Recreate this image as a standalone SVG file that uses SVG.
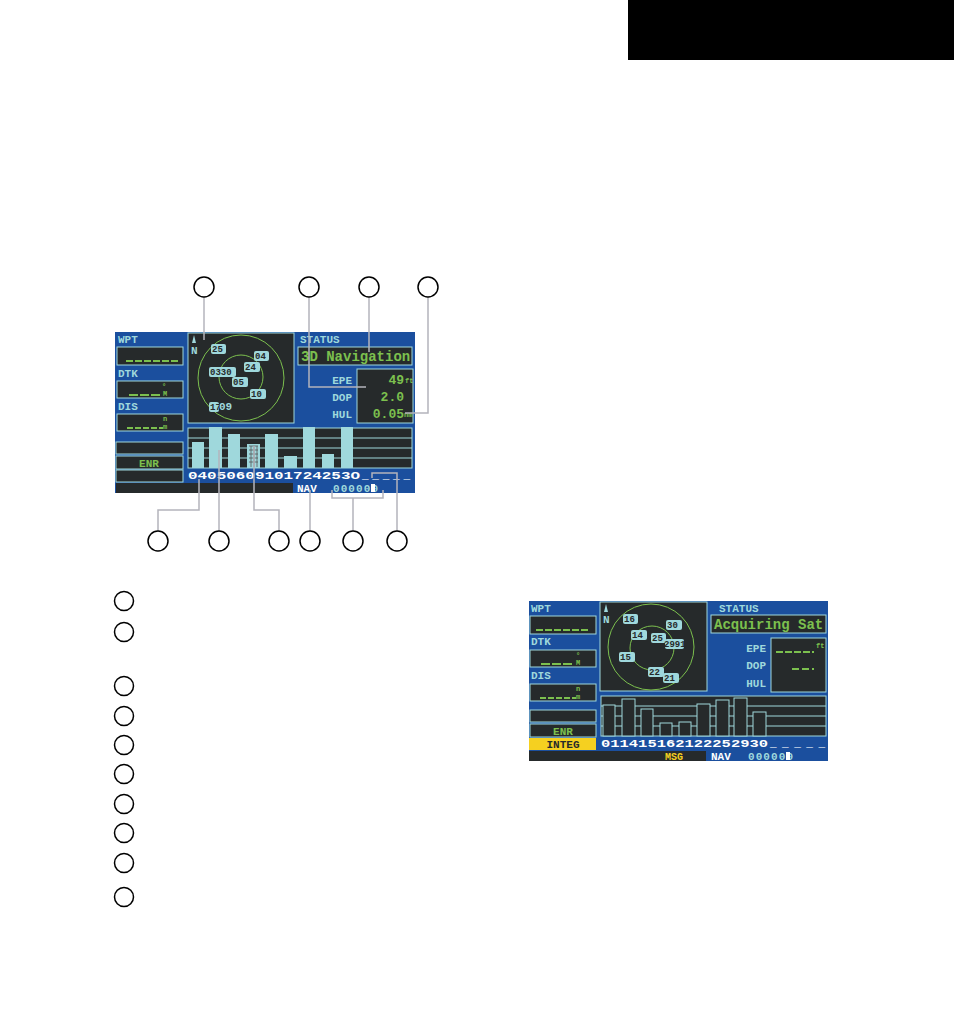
<svg xmlns="http://www.w3.org/2000/svg" width="954" height="1014" viewBox="0 0 954 1014">
<style>
.bg{fill:#1b4f9e}.dk{fill:#262a2b}.bx{fill:#262a2b;stroke:#9fd8dc;stroke-width:1}
.lbl{font-family:"Liberation Mono",monospace;font-weight:bold;fill:#9fd8dc;font-size:11px}
.gr{font-family:"Liberation Mono",monospace;font-weight:bold;fill:#7cc04e}
.wt{font-family:"Liberation Mono",monospace;font-weight:bold;fill:#fff;font-size:11px}
.sat{fill:#9fd8dc}.st{font-family:"Liberation Mono",monospace;font-size:9px;fill:#262a2b;font-weight:bold}
.ring{fill:none;stroke:#7cc04e;stroke-width:1}
.ld{fill:none;stroke:#b4b4bc;stroke-width:1.5}
.cc{fill:#fff;stroke:#000;stroke-width:1.5}
.bar{fill:#9fd8dc}.obar{fill:#262a2b;stroke:#9fd8dc}
.dash{stroke:#7cc04e;stroke-width:2}
</style>
<rect x="628" y="0" width="326" height="60" fill="#000"/>
<g id="screen1">
<rect class="bg" x="115" y="332" width="300" height="161"/>
<text class="lbl" x="118" y="343">WPT</text>
<rect class="bx" x="117" y="347" width="66" height="18"/>
<line class="dash" x1="126" y1="361" x2="180" y2="361" stroke-dasharray="7,2"/>
<text class="lbl" x="118" y="377">DTK</text>
<rect class="bx" x="117" y="381" width="66" height="17"/>
<line class="dash" x1="129" y1="395" x2="162" y2="395" stroke-dasharray="9,2"/>
<text class="gr" x="163" y="396" font-size="7">M</text><text class="gr" x="162" y="389" font-size="7">°</text>
<text class="lbl" x="118" y="410">DIS</text>
<rect class="bx" x="117" y="414" width="66" height="17"/>
<line class="dash" x1="127" y1="428" x2="163" y2="428" stroke-dasharray="6,2"/>
<text class="gr" x="163" y="429" font-size="7">m</text><text class="gr" x="163" y="421" font-size="7">n</text>
<rect class="bx" x="116" y="442" width="67" height="12"/>
<rect class="bx" x="116" y="456" width="67" height="13"/>
<text class="gr" x="149" y="467" font-size="11" text-anchor="middle">ENR</text>
<rect class="bx" x="116" y="470" width="67" height="12"/>
<rect class="dk" x="116" y="483" width="177" height="10"/>
<rect class="bx" x="188" y="333" width="106" height="90"/>
<circle class="ring" cx="241" cy="378" r="43"/><circle class="ring" cx="241" cy="377" r="22"/>
<path d="M194 335 L196 343 L192 343 Z" fill="#9fd8dc"/><text class="lbl" x="191" y="354" font-size="8" font-weight="normal">N</text>
<g>
<rect class="sat" x="211" y="344" width="15" height="10" rx="2"/><text class="st" x="212" y="352">25</text>
<rect class="sat" x="254" y="351" width="15" height="10" rx="2"/><text class="st" x="255" y="359">04</text>
<rect class="sat" x="244" y="362" width="16" height="10" rx="2"/><text class="st" x="245" y="370">24</text>
<rect class="sat" x="209" y="367" width="27" height="10" rx="2"/><text class="st" x="210" y="375">0330</text>
<rect class="sat" x="232" y="377" width="16" height="10" rx="2"/><text class="st" x="233" y="385">05</text>
<rect class="sat" x="250" y="389" width="16" height="10" rx="2"/><text class="st" x="251" y="397">10</text>
<rect class="sat" x="209" y="402" width="10" height="10" rx="2"/><text class="st" x="210" y="410">17</text>
<text class="lbl" x="219" y="410" font-size="9" font-weight="normal">09</text>
</g>
<text class="lbl" x="300" y="343">STATUS</text>
<rect class="bx" x="298" y="347" width="114" height="18"/>
<text class="gr" x="301" y="361" font-size="14">3D Navigation</text>
<text class="lbl" x="352" y="384" text-anchor="end">EPE</text>
<text class="lbl" x="352" y="401" text-anchor="end">DOP</text>
<text class="lbl" x="352" y="418" text-anchor="end">HUL</text>
<rect class="bx" x="357" y="369" width="56" height="54"/>
<text class="gr" x="404" y="384" font-size="13" text-anchor="end">49</text><text class="gr" x="405" y="383" font-size="7">ft</text>
<text class="gr" x="404" y="401" font-size="13" text-anchor="end">2.0</text>
<text class="gr" x="404" y="418" font-size="13" text-anchor="end">0.05</text><text class="gr" x="404" y="417" font-size="7">nm</text>
<rect class="bx" x="188" y="428" width="224" height="40"/>
<g stroke="#9fd8dc" stroke-width="1"><line x1="188" y1="438" x2="412" y2="438"/><line x1="188" y1="448" x2="412" y2="448"/><line x1="188" y1="458" x2="412" y2="458"/></g>
<g class="bar">
<rect x="192" y="442" width="12" height="26"/><rect x="209" y="427" width="13" height="41"/><rect x="228" y="434" width="12" height="34"/>
<rect x="265" y="434" width="13" height="34"/><rect x="284" y="456" width="13" height="12"/><rect x="303" y="427" width="12" height="41"/>
<rect x="322" y="454" width="12" height="14"/><rect x="341" y="427" width="12" height="41"/>
<rect x="247" y="444" width="13" height="24" fill="#9fd8dc"/>
</g>
<path d="M249 446 h9 M249 450 h9 M249 454 h9 M249 458 h9 M249 462 h9 M251 446 v21 M254 446 v21 M257 446 v21" stroke="#555" stroke-width="0.8"/>
<text class="wt" x="188" y="479" textLength="172" lengthAdjust="spacingAndGlyphs">04050609101724253O</text>
<text class="wt" x="362" y="479" textLength="48" lengthAdjust="spacing">_____</text>
<text class="wt" x="297" y="492" font-size="10">NAV</text>
<text class="lbl" x="333" y="492" font-size="10" font-weight="normal" textLength="45" lengthAdjust="spacing">000000</text>
<rect x="371" y="484" width="4" height="8" fill="#fff"/>
</g>
<g id="screen2">
<rect class="bg" x="529" y="601" width="299" height="160"/>
<text class="lbl" x="531" y="612">WPT</text>
<rect class="bx" x="530" y="616" width="66" height="18"/>
<line class="dash" x1="536" y1="630" x2="590" y2="630" stroke-dasharray="7,2"/>
<text class="lbl" x="531" y="645">DTK</text>
<rect class="bx" x="530" y="650" width="66" height="17"/>
<line class="dash" x1="541" y1="664" x2="574" y2="664" stroke-dasharray="9,2"/>
<text class="gr" x="576" y="665" font-size="7">M</text><text class="gr" x="576" y="658" font-size="7">°</text>
<text class="lbl" x="531" y="679">DIS</text>
<rect class="bx" x="530" y="684" width="66" height="17"/>
<line class="dash" x1="540" y1="698" x2="576" y2="698" stroke-dasharray="6,2"/>
<text class="gr" x="576" y="699" font-size="7">m</text><text class="gr" x="576" y="691" font-size="7">n</text>
<rect class="bx" x="530" y="710" width="66" height="12"/>
<rect class="bx" x="530" y="724" width="66" height="13"/>
<text class="gr" x="563" y="735" font-size="11" text-anchor="middle">ENR</text>
<rect x="529" y="738" width="67" height="12" fill="#f5d020"/>
<text x="563" y="748" font-family="Liberation Mono,monospace" font-weight="bold" font-size="11" fill="#262a2b" text-anchor="middle">INTEG</text>
<rect class="dk" x="529" y="751" width="177" height="10"/>
<text x="665" y="760" font-family="Liberation Mono,monospace" font-weight="bold" font-size="10" fill="#f5d020">MSG</text>
<rect class="bx" x="600" y="602" width="107" height="89"/>
<circle class="ring" cx="651" cy="647" r="43"/><circle class="ring" cx="652" cy="648" r="22"/>
<path d="M606 604 L608 612 L604 612 Z" fill="#9fd8dc"/><text class="lbl" x="603" y="623" font-size="8" font-weight="normal">N</text>
<g>
<rect class="sat" x="623" y="614" width="15" height="10" rx="2"/><text class="st" x="624" y="622">16</text>
<rect class="sat" x="666" y="620" width="16" height="10" rx="2"/><text class="st" x="667" y="628">30</text>
<rect class="sat" x="631" y="630" width="16" height="10" rx="2"/><text class="st" x="632" y="638">14</text>
<rect class="sat" x="651" y="633" width="15" height="10" rx="2"/><text class="st" x="652" y="641">25</text>
<rect class="sat" x="665" y="639" width="19" height="10" rx="2"/><text class="st" x="664" y="647">2991</text>
<rect class="sat" x="619" y="652" width="16" height="10" rx="2"/><text class="st" x="620" y="660">15</text>
<rect class="sat" x="648" y="667" width="16" height="10" rx="2"/><text class="st" x="649" y="675">22</text>
<rect class="sat" x="663" y="673" width="16" height="10" rx="2"/><text class="st" x="664" y="681">21</text>
</g>
<text class="lbl" x="719" y="612">STATUS</text>
<rect class="bx" x="711" y="615" width="115" height="18"/>
<text class="gr" x="714" y="629" font-size="14">Acquiring Sat</text>
<text class="lbl" x="766" y="652" text-anchor="end">EPE</text>
<text class="lbl" x="766" y="669" text-anchor="end">DOP</text>
<text class="lbl" x="766" y="687" text-anchor="end">HUL</text>
<rect class="bx" x="771" y="638" width="55" height="54"/>
<line class="dash" x1="776" y1="652" x2="814" y2="652" stroke-dasharray="7,2"/>
<text class="gr" x="816" y="648" font-size="7">ft</text>
<line class="dash" x1="792" y1="669" x2="814" y2="669" stroke-dasharray="7,3"/>
<rect class="bx" x="601" y="696" width="225" height="40"/>
<g stroke="#9fd8dc" stroke-width="1"><line x1="601" y1="706" x2="826" y2="706"/><line x1="601" y1="716" x2="826" y2="716"/><line x1="601" y1="726" x2="826" y2="726"/></g>
<g class="obar">
<rect x="603" y="705" width="12" height="31"/><rect x="622" y="699" width="13" height="37"/><rect x="641" y="709" width="12" height="27"/>
<rect x="660" y="723" width="12" height="13"/><rect x="679" y="722" width="12" height="14"/><rect x="697" y="704" width="13" height="32"/>
<rect x="716" y="700" width="13" height="36"/><rect x="734" y="698" width="13" height="38"/><rect x="753" y="712" width="13" height="24"/>
</g>
<text class="wt" x="601" y="747" textLength="167" lengthAdjust="spacingAndGlyphs">011415162122252930</text>
<text class="wt" x="770" y="747" textLength="55" lengthAdjust="spacing">_____</text>
<text class="wt" x="711" y="760" font-size="10">NAV</text>
<text class="lbl" x="748" y="760" font-size="10" font-weight="normal" textLength="45" lengthAdjust="spacing">000000</text>
<rect x="786" y="752" width="4" height="8" fill="#fff"/>
</g>
<g id="connectors">
<path class="ld" d="M204 297 V340"/>
<path class="ld" d="M309 297 V387 H366"/>
<path class="ld" d="M369 297 V352"/>
<path class="ld" d="M428 297 V413 H405"/>
<path class="ld" d="M158 531 V510 H199 V479"/>
<path class="ld" d="M219 531 V450"/>
<path class="ld" d="M279 531 V510 H254 V446"/>
<path class="ld" d="M310 531 V490"/>
<path class="ld" d="M353 531 V498 M332 490 V498 H383 V490"/>
<path class="ld" d="M397 531 V473 H372 V478"/>
</g>
<g id="callouts">
<circle class="cc" cx="204" cy="287" r="10"/><circle class="cc" cx="309" cy="287" r="10"/><circle class="cc" cx="369" cy="287" r="10"/><circle class="cc" cx="428" cy="287" r="10"/>
<circle class="cc" cx="158" cy="541" r="10"/><circle class="cc" cx="219" cy="541" r="10"/><circle class="cc" cx="279" cy="541" r="10"/><circle class="cc" cx="310" cy="541" r="10"/><circle class="cc" cx="353" cy="541" r="10"/><circle class="cc" cx="397" cy="541" r="10"/>
</g>
<g id="legend">
<circle class="cc" cx="124" cy="601" r="9.5"/><circle class="cc" cx="124" cy="632" r="9.5"/><circle class="cc" cx="124" cy="686" r="9.5"/><circle class="cc" cx="124" cy="716" r="9.5"/><circle class="cc" cx="124" cy="745" r="9.5"/>
<circle class="cc" cx="124" cy="774" r="9.5"/><circle class="cc" cx="124" cy="804" r="9.5"/><circle class="cc" cx="124" cy="833" r="9.5"/><circle class="cc" cx="124" cy="863" r="9.5"/><circle class="cc" cx="124" cy="897" r="9.5"/>
</g>
</svg>
